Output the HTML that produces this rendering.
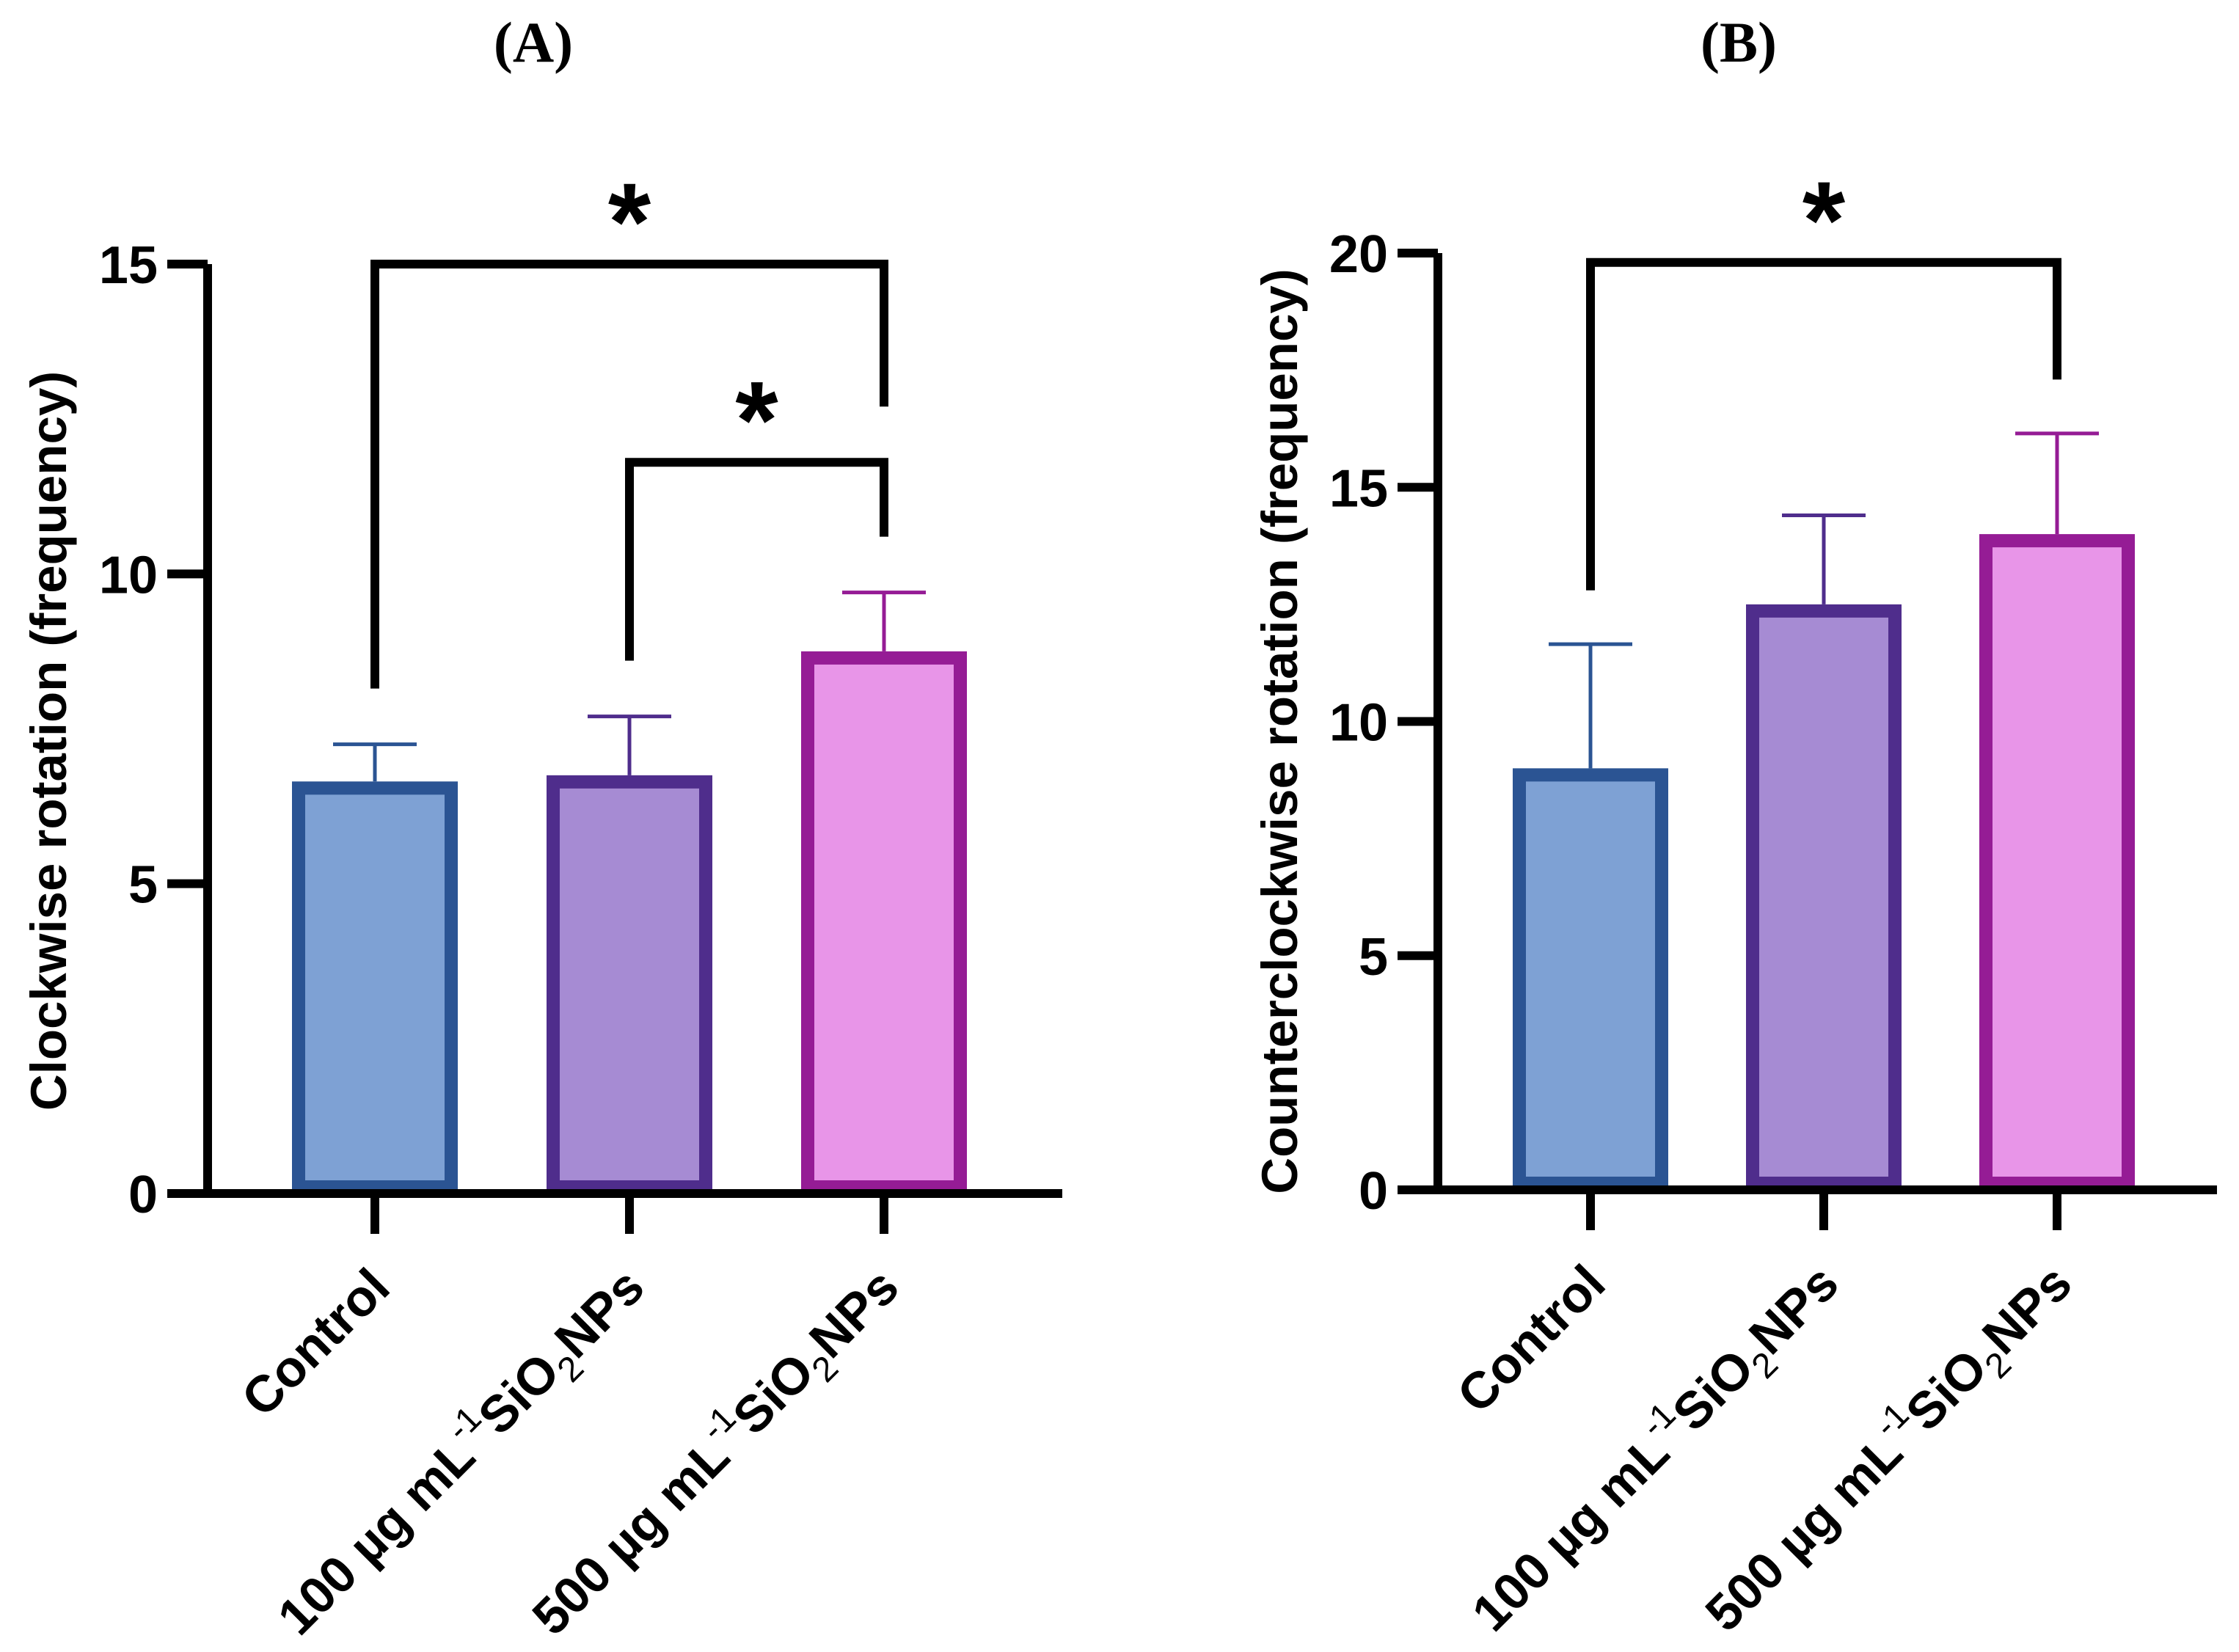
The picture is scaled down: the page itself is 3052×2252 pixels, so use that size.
<!DOCTYPE html>
<html><head><meta charset="utf-8"><style>
html,body{margin:0;padding:0;background:#fff}
svg{display:block}
text{font-family:"Liberation Sans",Arial,sans-serif;font-weight:bold;fill:#000}
</style></head><body>
<svg id="chart" width="3052" height="2252" viewBox="0 0 3052 2252" xmlns="http://www.w3.org/2000/svg">
<text x="727" y="84" text-anchor="middle" style="font-family:'Liberation Serif',serif;font-size:78px">(A)</text>
<text x="2370" y="84" text-anchor="middle" style="font-family:'Liberation Serif',serif;font-size:78px">(B)</text>
<g id="pa"></g>
<g id="pb"></g>
</svg>
<script>
const categories = ["Control", "100", "500"];
const valuesA = [6.65, 6.75, 8.75];
const errorsA = [7.25, 7.7, 9.7];
const valuesB = [9.0, 12.5, 14.0];
const errorsB = [11.65, 14.4, 16.15];
const ticksA = [0, 5, 10, 15];
const ticksB = [0, 5, 10, 15, 20];
const fills = ["#7ea1d4", "#a68bd3", "#e895e8"];
const strokes = ["#2b5493", "#4f2d8c", "#951c95"];
const NS = "http://www.w3.org/2000/svg";
function mk(parent, tag, attrs) {
  const e = document.createElementNS(NS, tag);
  for (const k in attrs) e.setAttribute(k, attrs[k]);
  parent.appendChild(e);
  return e;
}
function panel(g, cfg) {
  const y = v => cfg.y0 - (v / cfg.max) * (cfg.y0 - cfg.yTop);
  const x = i => cfg.x0 + i * cfg.step;
  cfg.vals.forEach((v, i) => {
    const bw = cfg.bw, b = 18;
    const r = mk(g, "rect", {x: x(i) - bw/2 + b/2, y: y(v) + b/2, width: bw - b, height: cfg.y0 - y(v) - b, fill: fills[i], stroke: strokes[i], "stroke-width": b});
    
    
    const e = mk(g, "path", {d: `M${x(i)},${y(v)} V${y(cfg.errs[i])} M${x(i) - cfg.cap},${y(cfg.errs[i])} H${x(i) + cfg.cap}`, stroke: strokes[i], "stroke-width": 5, fill: "none"});
    
    
  });
  const ax = mk(g, "path", {d: `M${cfg.ax},${y(cfg.max)} V${cfg.y0} M${cfg.ax - 55},${cfg.y0} H${cfg.xEnd}`, stroke: "#000", "stroke-width": 12, fill: "none"});
  
  
  cfg.ticks.forEach(t => {
    const tk = mk(g, "line", {x1: cfg.ax - 55, x2: cfg.ax, y1: y(t), y2: y(t), stroke: "#000", "stroke-width": 12});
    
    
    const tl = mk(g, "text", {x: cfg.ax - 68, y: y(t) + 26, "text-anchor": "end", "font-size": 72});
    tl.textContent = t;
    
    
  });
  categories.forEach((c, i) => {
    const tk = mk(g, "line", {x1: x(i), x2: x(i), y1: cfg.y0, y2: cfg.y0 + 55, stroke: "#000", "stroke-width": 12});
    
    
    const t = mk(g, "text", {transform: `translate(${x(i) + 24},${cfg.y0 + 132}) rotate(-45)`, "text-anchor": "end", "font-size": 70});
    
    
    if (i === 0) t.textContent = "Control";
    else t.innerHTML = `${c} µg mL<tspan font-weight="normal" font-size="48" dy="-32">-1</tspan><tspan dy="32">SiO</tspan><tspan font-weight="normal" font-size="48" dy="18">2</tspan><tspan dy="-18">NPs</tspan>`;
  });
  const yt = mk(g, "text", {transform: `translate(${cfg.titleX},${cfg.titleY}) rotate(-90)`, "text-anchor": "middle", "font-size": 69});
  yt.textContent = cfg.title;
  
  
  cfg.brackets.forEach(b => {
    const p = mk(g, "path", {d: `M${x(b[0])},${y(b[3])} V${y(b[2])} H${x(b[1])} V${y(b[4])}`, stroke: "#000", "stroke-width": 12, fill: "none"});
    
    
    const s = mk(g, "text", {x: (x(b[0]) + x(b[1])) / 2, y: y(b[2]) - 6, "text-anchor": "middle", "font-size": 150});
    s.textContent = "*";
    
    
  });
}
panel(document.getElementById("pa"), {y0: 1627, yTop: 360, max: 15, x0: 511, step: 347, bw: 226, cap: 57, ax: 283, xEnd: 1448,
  vals: valuesA, errs: errorsA, ticks: ticksA, title: "Clockwise rotation (frequency)", titleX: 90, titleY: 1010,
  brackets: [[0, 2, 15, 8.15, 12.7], [1, 2, 11.8, 8.6, 10.6]]});
panel(document.getElementById("pb"), {y0: 1622, yTop: 345, max: 20, x0: 2168, step: 318, bw: 212, cap: 57, ax: 1960, xEnd: 3022,
  vals: valuesB, errs: errorsB, ticks: ticksB, title: "Counterclockwise rotation (frequency)", titleX: 1768, titleY: 997,
  brackets: [[0, 2, 19.8, 12.8, 17.3]]});
</script>
</body></html>
